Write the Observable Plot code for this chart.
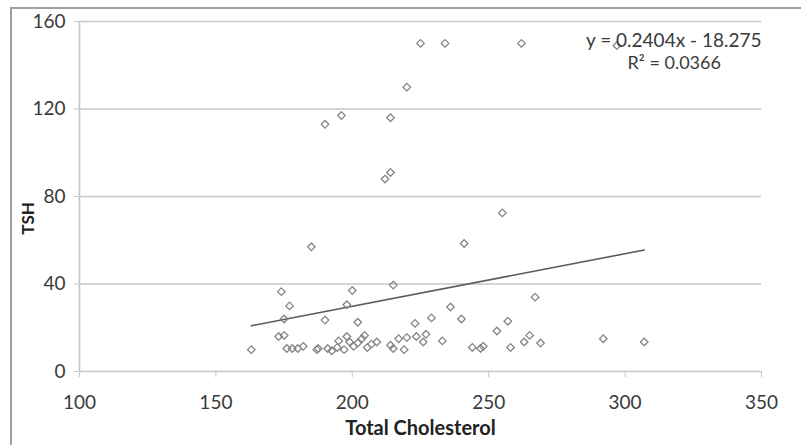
<!DOCTYPE html>
<html>
<head>
<meta charset="utf-8">
<script src="https://cdn.jsdelivr.net/npm/d3@7"></script>
<script src="https://cdn.jsdelivr.net/npm/@observablehq/plot@0.6"></script>
<style>
  html, body { margin: 0; padding: 0; background: #fff; overflow: hidden; }
  #wrap { position: relative; width: 801px; height: 445px; }
  #border { position: absolute; left: 10px; top: 7px; width: 800px; height: 460px; border: 2px solid #a0a0a0; box-sizing: border-box; pointer-events: none; }
</style>
</head>
<body>
<div id="wrap"><div id="border"></div></div>
<script>
// Total Cholesterol (x) and TSH (y) values
const cholesterol = [
  225, 234, 262, 297, 220, 196, 190, 214, 212, 214, 255, 241, 185, 215, 200,
  174, 177, 175, 198, 190, 202, 267, 236, 229, 240, 223, 257, 253,
  163, 173, 175, 176, 178, 180, 182, 187, 187.5, 191, 192.5, 194.5, 195, 197, 198, 199,
  200.5, 202, 203.5, 204.5, 205.5, 207, 209, 214, 215, 217, 219, 220, 223.5, 226, 227,
  233, 244, 247, 248, 258, 263, 265, 269, 292, 307
];
const tsh = [
  150, 150, 150, 149, 130, 117, 113, 116, 88, 91, 72.5, 58.5, 57, 39.5, 37,
  36.5, 30, 24, 30.5, 23.5, 22.5, 34, 29.5, 24.5, 24, 22, 23, 18.5,
  10, 16, 16.5, 10.5, 10.5, 10.5, 11.5, 10, 10.5, 10.5, 9.5, 11, 14, 10, 16, 13.5,
  11.5, 13, 15, 16.5, 11, 12.5, 13.5, 12, 10.5, 15, 10, 15.5, 16, 13.5, 17,
  14, 11, 10.5, 11.5, 11, 13.5, 16.5, 13, 15, 13.5
];
const xTicks = [100, 150, 200, 250, 300, 350];
const yTicks = [0, 40, 80, 120, 160];
const slope = 0.2404;
const intercept = -18.275;
const equationText = "y = 0.2404x - 18.275";
const r2Text = "R\u00b2 = 0.0366";
const xTitle = "Total Cholesterol";
const yTitle = "TSH";

const points = cholesterol.map((c, i) => ({x: c, y: tsh[i]}));
const [xmin, xmax] = d3.extent(cholesterol);
const trend = [xmin, xmax].map(x => ({x, y: slope * x + intercept}));

const font = "Lato, 'Liberation Sans', sans-serif";
const chart = Plot.plot({
  width: 801,
  height: 445,
  marginLeft: 79,
  marginRight: 40,
  marginTop: 21,
  marginBottom: 74,
  style: {fontFamily: font, background: "transparent"},
  x: {domain: [100, 350]},
  y: {domain: [0, 160]},
  marks: [
    Plot.ruleY(yTicks, {x1: 100, x2: 350, stroke: "#c6c6c6", strokeWidth: 1.6}),
    Plot.ruleX([100], {y1: 0, y2: 160, stroke: "#c6c6c6", strokeWidth: 1.6}),
    Plot.axisY({ticks: yTicks, tickSize: 5, tickPadding: 9, fontSize: 19, fill: "#3a3a3a", stroke: "#c6c6c6", label: null}),
    Plot.axisX({ticks: xTicks, tickSize: 6, tickPadding: 18, fontSize: 19, fill: "#3a3a3a", stroke: "#c6c6c6", label: null}),
    Plot.line(trend, {x: "x", y: "y", stroke: "#5a5a5a", strokeWidth: 1.6}),
    Plot.dot(points, {x: "x", y: "y", symbol: "diamond2", r: 3.4, stroke: "#858585", strokeWidth: 1.3, fill: "none"}),
    Plot.text([equationText], {x: 350, y: 151.2, text: d => d, textAnchor: "end", fontSize: 19, fill: "#3a3a3a"}),
    Plot.text([r2Text], {x: 318, y: 141.1, text: d => d, textAnchor: "middle", fontSize: 18, fill: "#3a3a3a"}),
    Plot.text([xTitle], {frameAnchor: "bottom", text: d => d, dy: 63, fontSize: 20, fontWeight: "bold", fill: "#222"}),
    Plot.text([yTitle], {frameAnchor: "left", textAnchor: "middle", text: d => d, dx: -51, dy: 22, rotate: -90, fontSize: 17, fontWeight: "bold", fill: "#222"})
  ]
});
document.getElementById("wrap").prepend(chart);
</script>
</body>
</html>
